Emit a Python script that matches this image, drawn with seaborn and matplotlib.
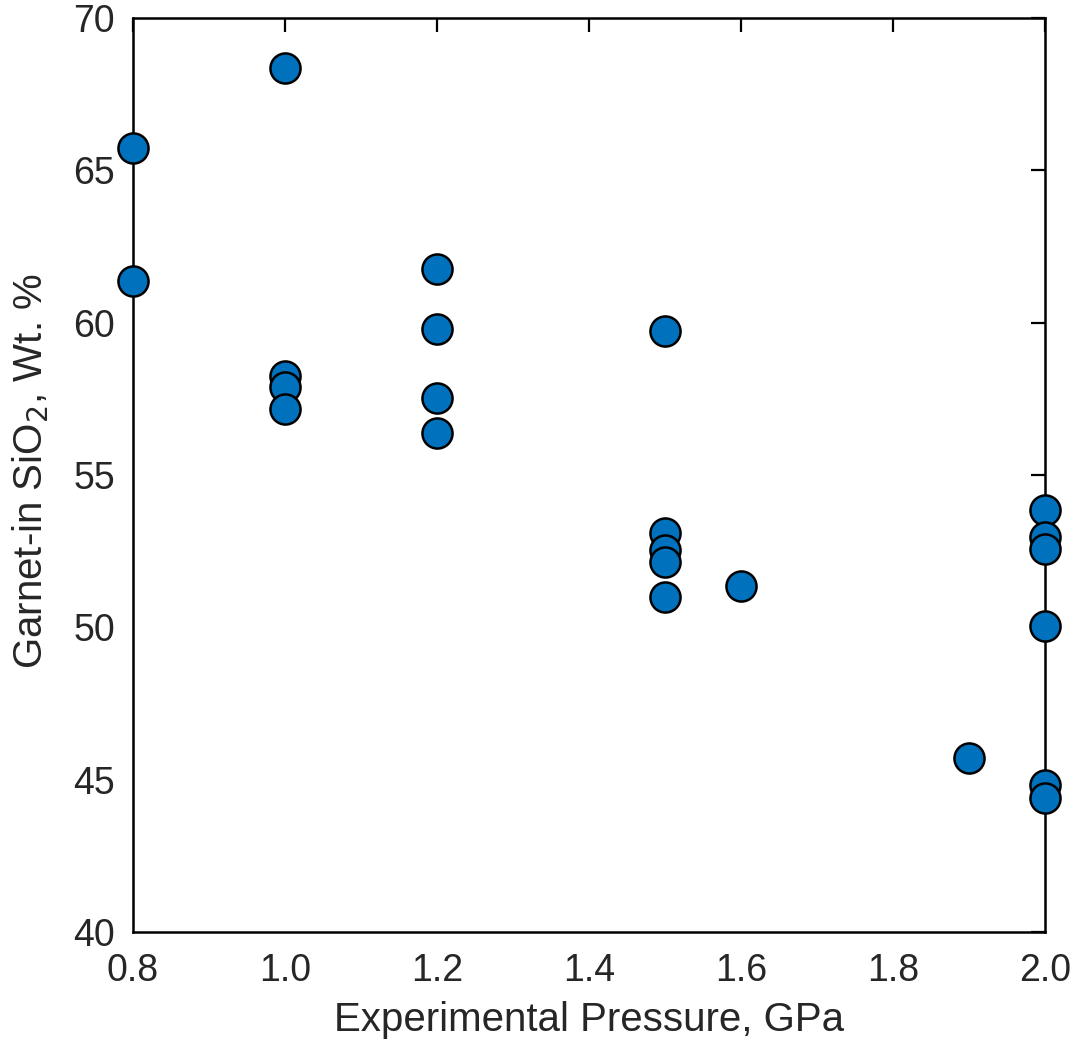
import matplotlib
matplotlib.use("Agg")
import matplotlib.pyplot as plt
import seaborn as sns
import pandas as pd

pressure = [0.8, 0.8,
            1.0, 1.0, 1.0, 1.0,
            1.2, 1.2, 1.2, 1.2,
            1.5, 1.5, 1.5, 1.5, 1.5,
            1.6, 1.9,
            2.0, 2.0, 2.0, 2.0, 2.0, 2.0]
sio2 = [65.73, 61.37,
        68.36, 58.25, 57.9, 57.17,
        61.76, 59.79, 57.53, 56.38,
        59.73, 53.08, 52.55, 52.15, 51.0,
        51.36, 45.71,
        53.85, 52.97, 52.57, 50.03, 44.83, 44.41]

df = pd.DataFrame({"P": pressure, "SiO2": sio2})

sns.set_style("white")
plt.rcParams["font.family"] = ["Liberation Sans", "DejaVu Sans"]

fig = plt.figure(figsize=(10.78, 10.40), dpi=100)
ax = fig.add_axes([133/1078, 1 - 932/1040, (1045-133)/1078, (932-18)/1040])

sns.scatterplot(data=df, x="P", y="SiO2", ax=ax, s=470, color="#0072BD",
                edgecolor="black", linewidth=1.8, zorder=3, clip_on=False)

ax.set_xlim(0.8, 2.0)
ax.set_ylim(40, 70)
ax.set_xticks([0.8, 1.0, 1.2, 1.4, 1.6, 1.8, 2.0])
ax.set_xticklabels(["0.8", "1.0", "1.2", "1.4", "1.6", "1.8", "2.0"])
ax.set_yticks([40, 45, 50, 55, 60, 65, 70])
ax.tick_params(direction="in", length=10, width=1.6, labelsize=27,
               top=True, right=True, colors="black", labelcolor="#262626")
ax.tick_params(axis="x", pad=15)
ax.tick_params(axis="y", pad=13)
for sp in ax.spines.values():
    sp.set_visible(True)
    sp.set_linewidth(1.8)
    sp.set_color("black")

ax.set_xlabel("Experimental Pressure, GPa", fontsize=29, color="#262626")
ax.set_ylabel("Garnet-in SiO$_2$, Wt. %", fontsize=29, color="#262626")

xl = ax.xaxis.label
xl.set_va("baseline")
ax.xaxis.set_label_coords(0.5, (932 - 1031) / 914)

yl = ax.yaxis.label
yl.set_rotation_mode("anchor")
yl.set_va("baseline")
yl.set_ha("center")
ax.yaxis.set_label_coords((42 - 133) / 912, (932 - 471) / 914)

fig.savefig("out.png", dpi=100)
